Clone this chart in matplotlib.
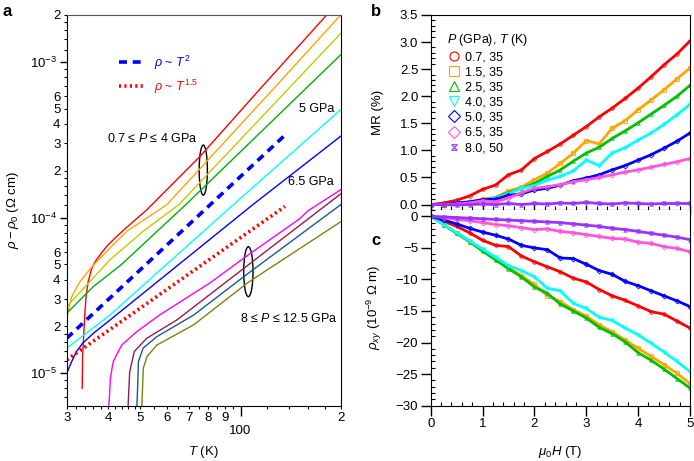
import numpy as np
import matplotlib
matplotlib.use("Agg")
import matplotlib.pyplot as plt
from matplotlib.patches import Ellipse
from matplotlib.lines import Line2D
from matplotlib.ticker import FixedLocator, FixedFormatter, MultipleLocator, FormatStrFormatter

plt.rcParams['font.family'] = ['Liberation Sans', 'DejaVu Sans']
plt.rcParams['mathtext.fontset'] = 'custom'
plt.rcParams['mathtext.rm'] = 'Liberation Sans'
plt.rcParams['mathtext.it'] = 'Liberation Sans:italic'
plt.rcParams['mathtext.bf'] = 'Liberation Sans:bold'
plt.rcParams['font.size'] = 8.5

# ---- panel a: rho - rho0 vs T (log-log) ----
T_07 = [33.4, 33.5, 34.05, 34.3, 34.8, 35.7, 36.5, 37.8, 39.5, 41.9, 45.0, 52.2, 75.5, 114, 181.5, 200]
r_07 = [8.0e-6, 1.31e-5, 2.49e-5, 3.1e-5, 3.88e-5, 4.73e-5, 5.2e-5, 5.77e-5, 6.5e-5, 7.38e-5, 8.5e-5, 1.12e-4, 2.47e-4, 6.64e-4, 2.0e-3, 2.55e-3]
T_15 = [30, 31.05, 32.9, 36.1, 45.4, 60, 125, 200]
r_15 = [2.26e-5, 3.11e-5, 3.88e-5, 4.97e-5, 8.15e-5, 1.21e-4, 6.64e-4, 2.0e-3]
T_25 = [30, 34.5, 40.5, 50.9, 65.2, 200]
r_25 = [2.68e-5, 3.70e-5, 5.36e-5, 8.15e-5, 1.21e-4, 1.52e-3]
T_40 = [30, 36.1, 43.7, 68.4, 200]
r_40 = [2.43e-5, 3.61e-5, 4.97e-5, 1.21e-4, 1.11e-3]
T_50 = [30, 40.5, 95.1, 200]
r_50 = [1.45e-5, 2.37e-5, 1.21e-4, 4.93e-4]
T_65 = [30, 31.05, 32.1, 33.5, 36.1, 40.5, 108.8, 200]
r_65 = [1.0e-5, 1.19e-5, 1.38e-5, 1.56e-5, 1.81e-5, 2.20e-5, 1.21e-4, 3.33e-4]
T_80 = [39.9, 40.3, 40.6, 41.4, 43.9, 48.7, 57.1, 80.8, 105.6, 150, 160, 200]
r_80 = [5.0e-6, 6.9e-6, 9.3e-6, 1.19e-5, 1.52e-5, 1.85e-5, 2.37e-5, 3.80e-5, 5.77e-5, 9.77e-5, 1.11e-4, 1.51e-4]
T_95 = [45.7, 46.1, 46.4, 47.9, 52.2, 64.3, 105.6, 200]
r_95 = [5.0e-6, 7.6e-6, 1.02e-5, 1.38e-5, 1.68e-5, 2.20e-5, 4.98e-5, 1.42e-4]
T_110 = [48.6, 49.0, 49.3, 50.9, 56, 72.3, 105.6, 200]
r_110 = [5.0e-6, 7.9e-6, 1.19e-5, 1.45e-5, 1.72e-5, 2.37e-5, 4.40e-5, 1.21e-4]
T_125 = [50.3, 50.7, 51.0, 52.3, 56, 72.3, 105.6, 200]
r_125 = [5.0e-6, 7.9e-6, 1.08e-5, 1.28e-5, 1.52e-5, 2.05e-5, 3.85e-5, 9.4e-5]

# guide lines (end points)
T_guide2 = [30, 137.5]
r_guide2 = [1.68e-5, 3.46e-4]
T_guide15 = [30, 136]
r_guide15 = [1.22e-5, 1.18e-4]

curves_a = [(T_07, r_07, '#ff0000'), (T_15, r_15, '#ffa500'), (T_25, r_25, '#c8c800'),
            (T_40, r_40, '#00b000'), (T_50, r_50, '#00ffff'), (T_65, r_65, '#0000ff'),
            (T_80, r_80, '#ff00ff'), (T_95, r_95, '#991a4d'), (T_110, r_110, '#1a5a80'),
            (T_125, r_125, '#808010')]

# ---- panels b, c: MR and Hall resistivity vs field ----
H = np.arange(0, 5.01, 0.25)
labels_bc = ['0.7, 35', '1.5, 35', '2.5, 35', '4.0, 35', '5.0, 35', '6.5, 35', '8.0, 50']
colors_bc = ['#ff0000', '#ffa500', '#00c000', '#00ffff', '#0000ff', '#ff55dd', '#9933ff']
mr_07 = [0.00, 0.03, 0.08, 0.16, 0.28, 0.36, 0.55, 0.64, 0.85, 0.98, 1.12, 1.28, 1.44, 1.62, 1.78, 1.96, 2.15, 2.36, 2.58, 2.78, 3.02]
mr_15 = [0.00, 0.00, 0.02, 0.05, 0.10, 0.13, 0.25, 0.32, 0.46, 0.58, 0.76, 0.95, 1.18, 1.12, 1.41, 1.55, 1.75, 1.93, 2.12, 2.32, 2.52]
mr_25 = [0.00, 0.00, 0.02, 0.04, 0.08, 0.13, 0.22, 0.30, 0.39, 0.52, 0.64, 0.80, 0.95, 1.06, 1.22, 1.36, 1.51, 1.67, 1.83, 2.00, 2.20]
mr_40 = [0.00, 0.00, 0.02, 0.04, 0.08, 0.12, 0.20, 0.30, 0.35, 0.45, 0.52, 0.62, 0.82, 0.72, 0.95, 1.05, 1.19, 1.32, 1.48, 1.66, 1.85]
mr_50 = [0.00, 0.00, 0.03, 0.05, 0.09, 0.10, 0.17, 0.20, 0.27, 0.30, 0.36, 0.44, 0.49, 0.55, 0.64, 0.72, 0.82, 0.92, 1.04, 1.17, 1.32]
mr_65 = [0.00, 0.00, 0.01, 0.03, 0.07, 0.05, 0.12, 0.22, 0.30, 0.33, 0.37, 0.42, 0.46, 0.50, 0.55, 0.60, 0.64, 0.69, 0.74, 0.79, 0.85]
mr_80 = [0.00, 0.00, -0.01, 0.00, 0.01, 0.00, 0.02, 0.00, 0.02, 0.01, 0.03, 0.02, 0.04, 0.02, 0.01, 0.03, 0.02, 0.01, 0.02, 0.02, 0.02]

rxy_07 = [0, -0.8, -1.6, -2.6, -3.8, -4.6, -4.8, -6.3, -7.2, -8.0, -8.8, -9.8, -10.4, -11.6, -12.6, -13.3, -14.2, -15.1, -15.5, -16.6, -17.7]
rxy_15 = [0, -1.3, -2.7, -4.0, -5.4, -6.8, -8.1, -9.4, -10.8, -12.6, -13.5, -14.8, -15.8, -17.2, -18.3, -19.6, -20.9, -22.2, -23.5, -24.9, -26.5]
rxy_25 = [0, -1.3, -2.7, -4.0, -5.5, -6.9, -8.3, -9.6, -11.2, -12.2, -13.9, -15.0, -16.1, -17.6, -18.6, -19.9, -21.6, -22.8, -24.2, -25.7, -27.2]
rxy_40 = [0, -1.3, -2.6, -3.9, -5.2, -6.5, -7.8, -8.6, -9.6, -11.4, -11.8, -13.8, -14.6, -16.0, -16.5, -17.7, -18.8, -20.1, -21.5, -23.0, -24.6]
rxy_50 = [0, -0.6, -1.2, -1.9, -2.5, -3.0, -3.6, -4.6, -5.0, -5.3, -6.6, -6.7, -7.6, -8.6, -9.2, -10.3, -11.0, -11.8, -12.6, -13.4, -14.3]
rxy_65 = [0, -0.2, -0.5, -0.7, -1.0, -1.3, -1.5, -1.8, -2.1, -2.0, -2.4, -2.6, -2.9, -3.2, -3.5, -3.6, -4.1, -4.3, -4.8, -5.1, -5.6]
rxy_80 = [0, -0.1, -0.2, -0.3, -0.4, -0.5, -0.6, -0.7, -0.8, -0.9, -1.0, -1.2, -1.4, -1.6, -1.9, -2.1, -2.4, -2.7, -3.0, -3.3, -3.7]

mr_all = [mr_07, mr_15, mr_25, mr_40, mr_50, mr_65, mr_80]
rxy_all = [rxy_07, rxy_15, rxy_25, rxy_40, rxy_50, rxy_65, rxy_80]

hourglass = [(-1, 1), (1, 1), (-1, -1), (1, -1), (-1, 1)]
markers_bc = ['o', 's', '^', 'v', 'D', 'D', hourglass]

fig = plt.figure(figsize=(6.94, 4.61), dpi=100)
axa = fig.add_axes([0.0961, 0.1200, 0.3948, 0.8475])
axb = fig.add_axes([0.6206, 0.5445, 0.3736, 0.4230])
axc = fig.add_axes([0.6206, 0.1200, 0.3736, 0.4245])

# panel a
for T, r, c in curves_a:
    axa.plot(T, r, color=c, lw=1.0)
l2, = axa.plot(T_guide2, r_guide2, color='#0000ff', lw=2.6, ls=(0, (2.2, 1.6)))
l15, = axa.plot(T_guide15, r_guide15, color='#ff0000', lw=2.6, ls=(0, (0.6, 0.9)))
axa.set_xscale('log')
axa.set_yscale('log')
axa.set_xlim(30, 200)
axa.set_ylim(6.2e-6, 2e-3)

axa.xaxis.set_major_locator(FixedLocator([100]))
axa.xaxis.set_major_formatter(FixedFormatter(['100']))
xminor = [30, 32, 34, 36, 38, 40, 42, 44, 46, 48, 50, 55, 60, 65, 70, 75, 80, 85, 90, 95,
          120, 140, 160, 180, 200]
xminor_lab = ['' for _ in xminor]
for v, s in zip([30, 40, 50, 60, 70, 80, 90, 200], ['3', '4', '5', '6', '7', '8', '9', '2']):
    xminor_lab[xminor.index(v)] = s
axa.xaxis.set_minor_locator(FixedLocator(xminor))
axa.xaxis.set_minor_formatter(FixedFormatter(xminor_lab))
axa.tick_params(axis='x', which='major', direction='out', length=7, width=1, pad=7, labelsize=9.5)
axa.tick_params(axis='x', which='minor', direction='out', length=2.5, width=0.8, pad=2, labelsize=9.5)

axa.yaxis.set_major_locator(FixedLocator([1e-5, 1e-4, 1e-3]))
axa.yaxis.set_major_formatter(FixedFormatter([r'$10^{-5}$', r'$10^{-4}$', r'$10^{-3}$']))
yminor, yminor_lab = [], []
for dec in [1e-6, 1e-5, 1e-4, 1e-3]:
    for m in [1.2, 1.4, 1.6, 1.8, 2, 3, 4, 5, 6, 7, 8, 9]:
        yminor.append(m * dec)
        yminor_lab.append(str(m) if m in (2, 3, 4, 5, 6) else '')
axa.yaxis.set_minor_locator(FixedLocator(yminor))
axa.yaxis.set_minor_formatter(FixedFormatter(yminor_lab))
axa.tick_params(axis='y', which='major', direction='out', length=5, width=1, labelsize=9.5, pad=2)
axa.tick_params(axis='y', which='minor', direction='out', length=2.5, width=0.8, labelsize=9.5, pad=2)
axa.spines['top'].set_color('#555555')

axa.set_xlabel(r'$T$ (K)', fontsize=9.5)
axa.xaxis.set_label_coords(0.5, -0.098)
axa.set_ylabel(r'$\rho-\rho_0$ ($\Omega$ cm)', fontsize=9.5)
axa.yaxis.set_label_coords(-0.165, 0.5)

leg = axa.legend([l2, l15], [r'$\rho$ ~ $T^2$', r'$\rho$ ~ $T^{1.5}$'], loc='upper left',
                 bbox_to_anchor=(0.15, 0.93), frameon=False, handlelength=2.0,
                 labelcolor='linecolor', fontsize=9, labelspacing=0.45)

axa.text(0.9755, 0.759, '5 GPa', transform=axa.transAxes, ha='right', va='center', fontsize=9)
axa.text(0.9755, 0.573, '6.5 GPa', transform=axa.transAxes, ha='right', va='center', fontsize=9)
axa.text(0.146, 0.684, r'0.7 ≤ $P$ ≤ 4 GPa', transform=axa.transAxes, ha='left', va='center', fontsize=9)
axa.text(0.6325, 0.224, r'8 ≤ $P$ ≤ 12.5 GPa', transform=axa.transAxes, ha='left', va='center', fontsize=9)
axa.add_patch(Ellipse((0.4985, 0.603), 0.030, 0.128, transform=axa.transAxes, fill=False, lw=1.0, color='k'))
axa.add_patch(Ellipse((0.663, 0.343), 0.034, 0.128, transform=axa.transAxes, fill=False, lw=1.0, color='k'))

# panels b and c
handles = []
for mr, rxy, c, mk, lab in zip(mr_all, rxy_all, colors_bc, markers_bc, labels_bc):
    axb.plot(H, mr, color=c, lw=2.0, marker=mk, ms=2.5, mfc='none', mew=0.6)
    axc.plot(H, rxy, color=c, lw=2.0, marker=mk, ms=2.5, mfc='none', mew=0.6)
    ms = 4 if mk is hourglass else 6.5
    handles.append(Line2D([], [], ls='none', marker=mk, ms=ms, mfc='none', mec=c, mew=0.8, label=lab))

for ax in (axb, axc):
    ax.set_xlim(0, 5)
    ax.xaxis.set_major_locator(MultipleLocator(1))
    ax.xaxis.set_minor_locator(MultipleLocator(0.2))
    ax.tick_params(axis='both', which='major', direction='out', length=7, width=1, labelsize=9.5, pad=2)
    ax.tick_params(axis='both', which='minor', direction='in', length=3, width=0.8)

axb.set_ylim(-0.1, 3.5)
axb.yaxis.set_major_locator(MultipleLocator(0.5))
axb.yaxis.set_minor_locator(MultipleLocator(0.1))
axb.yaxis.set_major_formatter(FormatStrFormatter('%.1f'))
axb.tick_params(axis='x', which='major', direction='inout', length=7, labelbottom=False)
axb.set_ylabel('MR (%)', fontsize=9.5)
axb.yaxis.set_label_coords(-0.18, 0.5)
legb = axb.legend(handles=handles, title=r'$P$ (GPa), $T$ (K)', loc='upper left',
                  bbox_to_anchor=(0.035, 0.95), frameon=False, fontsize=9, title_fontsize=9,
                  handlelength=1.0, handletextpad=0.4, labelspacing=0.25, alignment='left',
                  borderaxespad=0.2)

axc.set_ylim(-30, 1)
axc.yaxis.set_major_locator(MultipleLocator(5))
axc.yaxis.set_minor_locator(MultipleLocator(1))
axc.spines['top'].set_visible(False)
axc.set_ylabel(r'$\rho_{xy}$ ($10^{-9}$ $\Omega$ m)', fontsize=9.5)
axc.yaxis.set_label_coords(-0.18, 0.5)
axc.set_xlabel(r'$\mu_0H$ (T)', fontsize=9.5)
axc.xaxis.set_label_coords(0.5, -0.196)

fig.text(0.004, 0.975, 'a', fontsize=12, fontweight='bold', va='center')
fig.text(0.535, 0.975, 'b', fontsize=12, fontweight='bold', va='center')
fig.text(0.535, 0.479, 'c', fontsize=12, fontweight='bold', va='center')

fig.savefig('out.png', dpi=100)
